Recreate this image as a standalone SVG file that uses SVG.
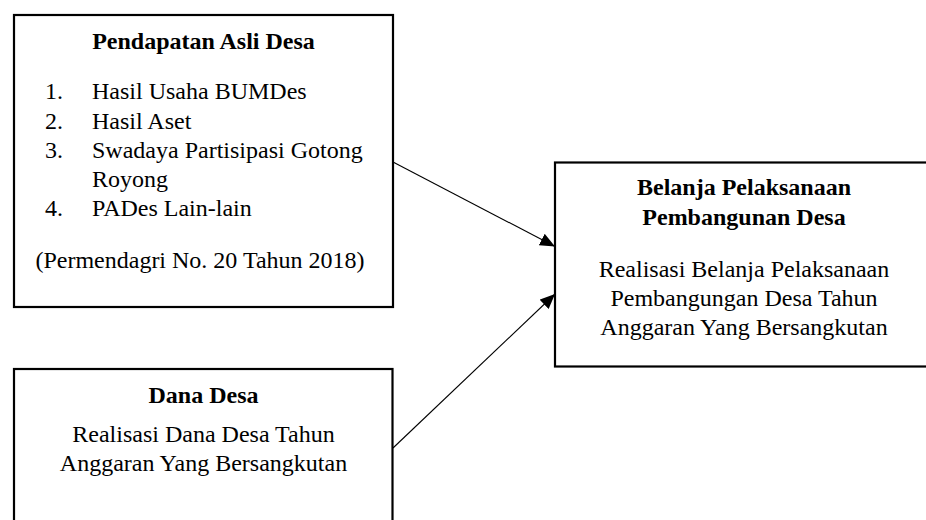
<svg xmlns="http://www.w3.org/2000/svg" width="926" height="520" viewBox="0 0 926 520">
<style>
text{font-family:"Liberation Serif","Times New Roman",serif;font-size:24px;fill:#000}
.b{font-weight:bold}
.c{text-anchor:middle}
.box{fill:#fff;stroke:#000;stroke-width:2.2}
.ln{stroke:#000;stroke-width:1.1;fill:none;marker-end:url(#ah)}
</style>
<defs>
<marker id="ah" markerUnits="userSpaceOnUse" markerWidth="16" markerHeight="13" refX="15" refY="6.5" orient="auto">
<path d="M0,0 L15,6.5 L0,13 z" fill="#000"/>
</marker>
</defs>
<rect width="926" height="520" fill="#fff"/>
<g id="pad">
<rect class="box" x="14" y="15" width="379" height="292"/>
<text class="b c" x="203.5" y="49">Pendapatan Asli Desa</text>
<text x="45" y="99">1.</text><text x="92" y="99">Hasil Usaha BUMDes</text>
<text x="45" y="128.5">2.</text><text x="92" y="128.5">Hasil Aset</text>
<text x="45" y="157.5">3.</text><text x="92" y="157.5">Swadaya Partisipasi Gotong</text>
<text x="92" y="186.5">Royong</text>
<text x="45" y="216">4.</text><text x="92" y="216">PADes Lain-lain</text>
<text class="c" x="200" y="268">(Permendagri No. 20 Tahun 2018)</text>
</g>
<g id="dd">
<rect class="box" x="14" y="369" width="378.5" height="170"/>
<text class="b c" x="203.5" y="403">Dana Desa</text>
<text class="c" x="203.5" y="441.5">Realisasi Dana Desa Tahun</text>
<text class="c" x="203.5" y="470.5">Anggaran Yang Bersangkutan</text>
</g>
<g id="bp">
<rect class="box" x="555" y="162.5" width="378" height="204"/>
<text class="b c" x="744" y="195">Belanja Pelaksanaan</text>
<text class="b c" x="744" y="225">Pembangunan Desa</text>
<text class="c" x="744" y="276.5">Realisasi Belanja Pelaksanaan</text>
<text class="c" x="744" y="305.5">Pembangungan Desa Tahun</text>
<text class="c" x="744" y="334.5">Anggaran Yang Bersangkutan</text>
</g>
<g id="connectors">
<line class="ln" x1="393" y1="162" x2="555" y2="246.5"/>
<line class="ln" x1="393" y1="448" x2="555" y2="294"/>
</g>
</svg>
